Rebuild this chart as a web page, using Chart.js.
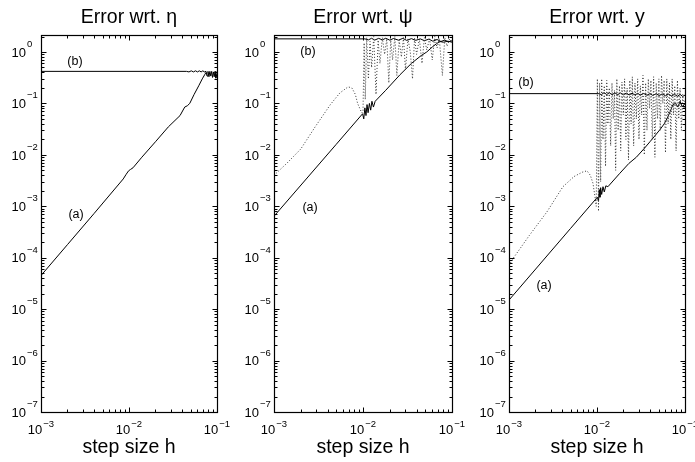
<!DOCTYPE html>
<html>
<head>
<meta charset="utf-8">
<script src="https://cdn.jsdelivr.net/npm/chart.js@4"></script>
<style>
  html, body { margin: 0; padding: 0; background: #fff; }
  #wrap { position: relative; width: 695px; height: 462px; }
  canvas { position: absolute; left: 0; top: 0; }
</style>
</head>
<body>
<div id="wrap">
  <canvas id="etaChart" width="695" height="462"></canvas>
  <canvas id="psiChart" width="695" height="462"></canvas>
  <canvas id="yChart" width="695" height="462"></canvas>
</div>
<script>
// axis limits and tick labels
const xMin = 1e-3, xMax = 1e-1;
const yMin = 1e-7, yMax = 2.14;
const xTickValues = [1e-3, 1e-2, 1e-1];
const xTickExps = ["\u22123", "\u22122", "\u22121"];
const yTickValues = [1, 1e-1, 1e-2, 1e-3, 1e-4, 1e-5, 1e-6, 1e-7];
const yTickExps = ["0", "\u22121", "\u22122", "\u22123", "\u22124", "\u22125", "\u22126", "\u22127"];
const xLabel = "step size h";
const titles = ["Error wrt. \u03b7", "Error wrt. \u03c8", "Error wrt. y"];
const curveNames = ["(a)", "(b)"];

// ---- panel 1: error wrt. eta ----
const hEtaA   = [0.001, 0.002, 0.004, 0.0086, 0.0093, 0.0099, 0.0104, 0.0111, 0.014, 0.02, 0.028, 0.038, 0.043, 0.046, 0.049, 0.055, 0.062, 0.068, 0.073, 0.075];
const errEtaA = [4.5e-5, 1.8e-4, 7.2e-4, 3.4e-3, 4.2e-3, 4.9e-3, 5.2e-3, 5.6e-3, 9e-3, 0.018, 0.035, 0.058, 0.085, 0.09, 0.1, 0.15, 0.22, 0.3, 0.37, 0.4];
const hEtaB   = [0.001, 0.045, 0.048, 0.051, 0.054, 0.057, 0.06, 0.063, 0.066, 0.069, 0.072, 0.075, 0.077, 0.079, 0.081, 0.083, 0.085, 0.087, 0.089, 0.091, 0.093, 0.095, 0.097, 0.1];
const errEtaB = [0.42, 0.42, 0.41, 0.43, 0.41, 0.43, 0.41, 0.43, 0.41, 0.43, 0.41, 0.42, 0.34, 0.42, 0.33, 0.42, 0.34, 0.42, 0.32, 0.41, 0.33, 0.42, 0.31, 0.38];
const hEtaNames   = [2.5e-3, 2.43e-3];
const errEtaNames = [6.8e-4, 0.64];

// ---- panel 2: error wrt. psi ----
const hPsiA   = [0.001, 0.005, 0.0099, 0.0102, 0.0105, 0.0108, 0.0111, 0.0114, 0.0118, 0.0122, 0.0126, 0.0131, 0.0137, 0.018, 0.026, 0.035, 0.045, 0.052, 0.06, 0.067, 0.073, 0.08, 0.09, 0.1];
const errPsiA = [6.4e-4, 0.016, 0.063, 0.05, 0.082, 0.058, 0.095, 0.066, 0.1, 0.074, 0.11, 0.085, 0.11, 0.18, 0.36, 0.6, 0.85, 1.0, 1.25, 1.45, 1.6, 1.55, 1.62, 1.55];
const hPsiB   = [0.001, 0.0105, 0.0115, 0.0125, 0.0135, 0.015, 0.0165, 0.018, 0.02, 0.022, 0.025, 0.028, 0.031, 0.035, 0.039, 0.044, 0.049, 0.055, 0.061, 0.068, 0.075, 0.083, 0.091, 0.1];
const errPsiB = [1.8, 1.8, 1.72, 1.85, 1.7, 1.84, 1.72, 1.85, 1.7, 1.83, 1.7, 1.84, 1.68, 1.82, 1.68, 1.8, 1.66, 1.78, 1.62, 1.75, 1.6, 1.7, 1.58, 1.65];
const hPsiC   = [0.001, 0.0014, 0.002, 0.0029, 0.0043, 0.0055, 0.0068, 0.0075, 0.0082, 0.0087,
                 0.0092, 0.0097, 0.01, 0.0103, 0.0106, 0.011, 0.0115, 0.012, 0.0125, 0.0132,
                 0.014, 0.0148, 0.0155, 0.0165, 0.0175, 0.0185, 0.0195, 0.0205, 0.0215, 0.0228,
                 0.024, 0.0255, 0.027, 0.0285, 0.03, 0.032, 0.034, 0.036, 0.038, 0.04,
                 0.043, 0.046, 0.049, 0.052, 0.056, 0.06, 0.064, 0.068, 0.072, 0.078,
                 0.083, 0.088, 0.094, 0.1];
const errPsiC = [4e-3, 6.9e-3, 0.013, 0.035, 0.095, 0.16, 0.21, 0.2, 0.15, 0.1,
                 0.08, 0.065, 0.07, 1.5, 0.12, 1.9, 0.3, 1.6, 0.5, 2.0,
                 0.15, 1.7, 0.6, 1.9, 0.9, 1.8, 0.25, 1.7, 0.7, 2.0,
                 0.35, 1.7, 0.8, 1.9, 0.45, 1.8, 1.0, 0.3, 1.9, 0.9,
                 1.8, 0.6, 1.9, 1.1, 1.8, 0.7, 2.0, 1.2, 1.8, 0.35,
                 1.9, 1.3, 1.8, 1.5];
const hPsiNames   = [2.54e-3, 2.41e-3];
const errPsiNames = [9.4e-4, 1.0];

// ---- panel 3: error wrt. y ----
const hYA   = [0.001, 0.005, 0.0101, 0.0104, 0.0106, 0.0108, 0.011, 0.0113, 0.0117, 0.0121,
               0.0126, 0.0133, 0.018, 0.023, 0.028, 0.034, 0.04, 0.046, 0.052, 0.058,
               0.063, 0.068, 0.073, 0.078, 0.083, 0.088, 0.093, 0.1];
const errYA = [1.5e-5, 3.7e-4, 1.5e-3, 1.25e-3, 2.1e-3, 1.5e-3, 2.3e-3, 1.7e-3, 2.4e-3, 1.9e-3,
               2.5e-3, 2.4e-3, 4.3e-3, 6.8e-3, 9e-3, 0.013, 0.018, 0.024, 0.031, 0.04,
               0.052, 0.07, 0.095, 0.1, 0.085, 0.11, 0.085, 0.1];
const hYB   = [0.001, 0.0105, 0.0112, 0.012, 0.0129, 0.0138, 0.0148, 0.016, 0.0172, 0.0185,
               0.02, 0.0215, 0.0232, 0.025, 0.027, 0.029, 0.031, 0.034, 0.037, 0.04,
               0.043, 0.047, 0.051, 0.055, 0.06, 0.065, 0.07, 0.076, 0.082, 0.088,
               0.094, 0.1];
const errYB = [0.155, 0.155, 0.148, 0.162, 0.149, 0.161, 0.148, 0.16, 0.148, 0.16,
               0.147, 0.159, 0.146, 0.158, 0.146, 0.157, 0.145, 0.156, 0.144, 0.155,
               0.143, 0.154, 0.142, 0.153, 0.141, 0.152, 0.14, 0.15, 0.138, 0.15,
               0.137, 0.145];
const hYC   = [0.001, 0.0011, 0.0017, 0.0027, 0.0041, 0.0055, 0.0068, 0.0077, 0.0084, 0.009,
               0.0095, 0.0098, 0.0101, 0.0104, 0.0107, 0.011, 0.0113, 0.0117, 0.0121, 0.0125,
               0.0129, 0.0133, 0.0138, 0.0143, 0.0148, 0.0153, 0.0158, 0.0163, 0.0168, 0.0174,
               0.018, 0.0186, 0.0192, 0.0199, 0.0206, 0.0213, 0.022, 0.0228, 0.0236, 0.0244,
               0.0252, 0.0261, 0.027, 0.028, 0.029, 0.03, 0.0311, 0.0322, 0.0333, 0.0345,
               0.0357, 0.037, 0.0383, 0.0396, 0.041, 0.0425, 0.044, 0.0455, 0.0471, 0.0488,
               0.0505, 0.0523, 0.0541, 0.056, 0.058, 0.06, 0.0621, 0.0643, 0.0666, 0.069,
               0.0714, 0.0739, 0.0765, 0.0792, 0.082, 0.0849, 0.0879, 0.091, 0.0942, 0.0975,
               0.1];
const errYC = [7e-5, 9.4e-5, 2.7e-4, 7.8e-4, 2.4e-3, 3.8e-3, 4.6e-3, 4.9e-3, 4e-3, 2.8e-3,
               1.5e-3, 1.0e-3, 0.3, 8e-4, 0.25, 3e-3, 0.3, 0.02, 0.22, 6e-3,
               0.28, 0.04, 0.2, 0.015, 0.25, 0.05, 0.18, 5e-3, 0.3, 0.03,
               0.22, 0.012, 0.26, 0.06, 0.3, 0.02, 0.2, 0.008, 0.28, 0.04,
               0.33, 0.015, 0.25, 0.05, 0.3, 0.02, 0.22, 0.06, 0.35, 0.01,
               0.25, 0.03, 0.3, 0.08, 0.28, 0.02, 0.33, 0.009, 0.25, 0.05,
               0.3, 0.03, 0.35, 0.1, 0.28, 0.011, 0.3, 0.04, 0.25, 0.02,
               0.3, 0.06, 0.22, 0.012, 0.28, 0.05, 0.2, 0.03, 0.15, 0.08,
               0.12];
const hYNames   = [2.5e-3, 1.56e-3];
const errYNames = [2.85e-5, 0.26];

const FONT = '"Liberation Sans", Arial, Helvetica, sans-serif';

function zip(xs, ys) {
  return xs.map((x, i) => ({ x: x, y: ys[i] }));
}

function lineSet(xs, ys, dotted) {
  return {
    data: zip(xs, ys),
    showLine: true,
    borderColor: dotted ? '#333' : '#000',
    borderWidth: 1,
    borderDash: dotted ? [1, 2] : [],
    pointRadius: 0,
    tension: 0,
    fill: false
  };
}

// MATLAB-like box, inward ticks, 10^n labels, title and annotations
const matlabAxes = {
  id: 'matlabAxes',
  afterDraw(chart, args, opts) {
    const ctx = chart.ctx;
    const a = chart.chartArea;
    const xs = chart.scales.x, ys = chart.scales.y;
    const L = Math.round(a.left) + 0.5, R = Math.round(a.right) + 0.5;
    const T = Math.round(a.top) + 0.5, B = Math.round(a.bottom) + 0.5;
    ctx.save();
    ctx.strokeStyle = '#000';
    ctx.lineWidth = 1.2;
    ctx.strokeRect(L, T, R - L, B - T);

    ctx.lineWidth = 1;
    ctx.beginPath();
    for (let d = -3; d <= -1; d++) {
      for (let k = 1; k <= 9; k++) {
        const v = k * Math.pow(10, d);
        if (v > xMax * 1.0001) break;
        const px = Math.round(xs.getPixelForValue(v)) + 0.5;
        const len = k === 1 ? 5 : 3;
        ctx.moveTo(px, B); ctx.lineTo(px, B - len);
        ctx.moveTo(px, T); ctx.lineTo(px, T + len);
      }
    }
    for (let d = -7; d <= 0; d++) {
      for (let k = 1; k <= 9; k++) {
        const v = k * Math.pow(10, d);
        if (v > yMax) break;
        const py = Math.round(ys.getPixelForValue(v)) + 0.5;
        const len = k === 1 ? 5 : 3;
        ctx.moveTo(L, py); ctx.lineTo(L + len, py);
        ctx.moveTo(R, py); ctx.lineTo(R - len, py);
      }
    }
    ctx.stroke();

    ctx.fillStyle = '#000';
    const big = '13px ' + FONT, small = '9.5px ' + FONT;

    // y tick labels
    yTickValues.forEach((v, i) => {
      const py = ys.getPixelForValue(v);
      ctx.font = big;
      ctx.textAlign = 'right';
      ctx.textBaseline = 'alphabetic';
      ctx.fillText('10', a.left - 15, py + 4.7);
      ctx.font = small;
      ctx.textAlign = 'left';
      ctx.fillText(yTickExps[i], a.left - 14, py - 5);
    });

    // x tick labels
    xTickValues.forEach((v, i) => {
      const px = xs.getPixelForValue(v);
      ctx.font = big;
      const w10 = ctx.measureText('10').width;
      ctx.font = small;
      const wE = ctx.measureText(xTickExps[i]).width;
      const x0 = px - (w10 + 1 + wE) / 2;
      ctx.textAlign = 'left';
      ctx.textBaseline = 'alphabetic';
      ctx.font = big;
      ctx.fillText('10', x0, a.bottom + 22);
      ctx.font = small;
      ctx.fillText(xTickExps[i], x0 + w10 + 1, a.bottom + 15);
    });

    const cx = (a.left + a.right) / 2;
    ctx.textAlign = 'center';
    ctx.textBaseline = 'alphabetic';
    ctx.font = '19.5px ' + FONT;
    ctx.fillText(opts.title, cx, 23);
    ctx.fillText(xLabel, cx, 453);

    // curve annotations placed in data coordinates
    ctx.font = '12.5px ' + FONT;
    ctx.textBaseline = 'middle';
    curveNames.forEach((name, i) => {
      ctx.fillText(name, xs.getPixelForValue(opts.nameH[i]), ys.getPixelForValue(opts.nameErr[i]));
    });
    ctx.restore();
  }
};

function makePanel(id, left, right, title, datasets, nameH, nameErr) {
  return new Chart(document.getElementById(id), {
    type: 'scatter',
    data: { datasets: datasets },
    options: {
      responsive: false,
      animation: false,
      events: [],
      layout: { padding: { left: left, right: 695 - right, top: 35, bottom: 462 - 412 } },
      scales: {
        x: { type: 'logarithmic', min: xMin, max: xMax, display: false },
        y: { type: 'logarithmic', min: yMin, max: yMax, display: false }
      },
      plugins: {
        legend: { display: false },
        tooltip: { enabled: false },
        matlabAxes: { title: title, nameH: nameH, nameErr: nameErr }
      }
    },
    plugins: [matlabAxes]
  });
}

makePanel('etaChart', 41, 217, titles[0], [
  lineSet(hEtaA, errEtaA, false),
  lineSet(hEtaB, errEtaB, false)
], hEtaNames, errEtaNames);

makePanel('psiChart', 274, 452, titles[1], [
  lineSet(hPsiC, errPsiC, true),
  lineSet(hPsiA, errPsiA, false),
  lineSet(hPsiB, errPsiB, false)
], hPsiNames, errPsiNames);

makePanel('yChart', 509, 685, titles[2], [
  lineSet(hYC, errYC, true),
  lineSet(hYA, errYA, false),
  lineSet(hYB, errYB, false)
], hYNames, errYNames);
</script>
</body>
</html>
